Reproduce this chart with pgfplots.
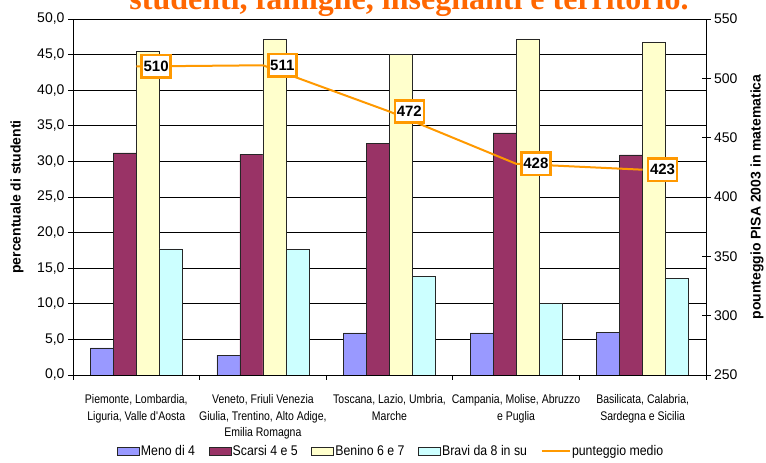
\documentclass[border=0pt]{standalone}
\usepackage{fontspec}
\setmainfont{Liberation Sans}
\newfontfamily\narrowfont[FakeStretch=0.84]{Liberation Sans}
\newfontfamily\legfont[FakeStretch=0.88]{Liberation Sans}
\newfontfamily\titlefont{Liberation Serif}
\usepackage{pgfplots}
\pgfplotsset{compat=1.18}
\definecolor{meno}{HTML}{9999FF}
\definecolor{scarsi}{HTML}{993366}
\definecolor{benino}{HTML}{FFFFCC}
\definecolor{bravi}{HTML}{CCFFFF}
\definecolor{linea}{HTML}{FF9900}
\definecolor{titolo}{HTML}{FF6600}
\pgfplotsset{
  barleg/.style={legend image code/.code={\draw[##1] (0pt,-4pt) rectangle (22pt,4pt);}},
}
\begin{document}
\begin{tikzpicture}[x=1pt,y=1pt]
\useasboundingbox (0,0) rectangle (766,463);
\begin{axis}[
  at={(73pt,88pt)}, anchor=south west,
  scale only axis, width=633pt, height=356pt,
  xmin=-0.5, xmax=4.5, ymin=0, ymax=50,
  ybar=0pt, bar width=23pt,
  xtick={-0.5,0.5,1.5,2.5,3.5,4.5},
  xticklabels={{Piemonte, Lombardia,\\Liguria, Valle d\textquotesingle Aosta},
               {Veneto, Friuli Venezia\\Giulia, Trentino, Alto Adige,\\Emilia Romagna},
               {Toscana, Lazio, Umbria,\\Marche},
               {Campania, Molise, Abruzzo\\e Puglia},
               {Basilicata, Calabria,\\Sardegna e Sicilia}},
  x tick label as interval,
  xtick pos=bottom, ytick pos=left,
  tick align=outside, major tick length=5pt,
  tick style={black, line width=0.8pt},
  axis line style={black, line width=0.8pt},
  x tick label style={font=\narrowfont\fontsize{12.5}{16.8}\selectfont, align=center, anchor=north, inner sep=0pt, yshift=-14pt},
  ytick={0,5,...,50},
  /pgf/number format/assume math mode=true,
  yticklabel={\pgfmathprintnumber[fixed,fixed zerofill,precision=1,use comma]{\tick}},
  y tick label style={font=\fontsize{14}{14}\selectfont},
  ymajorgrids, major grid style={black, line width=0.7pt},
  ylabel={percentuale di studenti},
  every axis y label/.style={at={(axis description cs:0,0.5)}, xshift=-56pt, rotate=90, anchor=center, font=\bfseries\fontsize{14}{14}\selectfont},
  legend columns=5,
  legend style={at={(axis description cs:0.502,-0.2135)}, anchor=center, draw=none, fill=none,
    font=\legfont\fontsize{14}{14}\selectfont,
    /tikz/every even column/.append style={column sep=12pt},
    nodes={inner sep=1.5pt}},
]
\addplot[fill=meno, draw=black!85, line width=0.6pt, barleg] coordinates {(0,3.8) (1,2.8) (2,5.9) (3,5.9) (4,6.0)};
\addplot[fill=scarsi, draw=black!85, line width=0.6pt, barleg] coordinates {(0,31.2) (1,31.0) (2,32.5) (3,34.0) (4,30.9)};
\addplot[fill=benino, draw=black!85, line width=0.6pt, barleg] coordinates {(0,45.5) (1,47.1) (2,45.0) (3,47.2) (4,46.7)};
\addplot[fill=bravi, draw=black!85, line width=0.6pt, barleg] coordinates {(0,17.7) (1,17.6) (2,13.9) (3,10.1) (4,13.6)};
\addlegendimage{legend image code/.code={\draw[linea, line width=2pt] (0pt,0pt) -- (28pt,0pt);}}
\legend{Meno di 4, Scarsi 4 e 5, Benino 6 e 7, Bravi da 8 in su, punteggio medio}
\end{axis}
\begin{axis}[
  at={(73pt,88pt)}, anchor=south west,
  scale only axis, width=633pt, height=356pt,
  xmin=-0.5, xmax=4.5, ymin=250, ymax=550,
  axis x line=none, axis y line*=right,
  ytick={250,300,...,550},
  tick align=center, major tick length=9pt,
  tick style={black, line width=0.8pt},
  axis line style={black, line width=0.8pt},
  /pgf/number format/assume math mode=true,
  y tick label style={font=\fontsize{14}{14}\selectfont},
  ylabel={pounteggio PISA 2003 in matematica},
  every axis y label/.style={at={(axis description cs:1,0.5)}, xshift=51pt, rotate=90, anchor=center, font=\bfseries\fontsize{14}{14}\selectfont},
]
\addplot[linea, line width=2pt, mark=none, nodes near coords,
  every node near coord/.append style={anchor=west, xshift=4pt, draw=linea, line width=2.6pt, fill=white,
    font=\bfseries\fontsize{15}{15}\selectfont, text=black, inner xsep=2pt, inner ysep=6pt}]
  coordinates {(0,510) (1,511) (2,472) (3,428) (4,423)};
\end{axis}
\node[font=\titlefont\bfseries\fontsize{32}{32}\selectfont, text=titolo, anchor=base] at (409,453.7) {studenti, famiglie, insegnanti e territorio.};
\end{tikzpicture}
\end{document}
